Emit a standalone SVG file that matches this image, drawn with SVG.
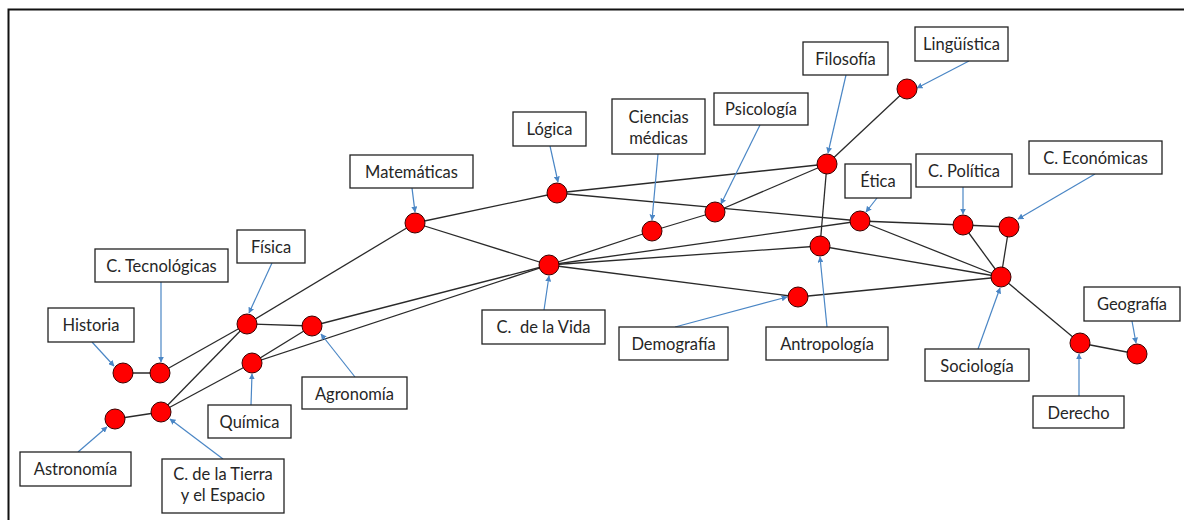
<svg xmlns="http://www.w3.org/2000/svg" width="1184" height="520" viewBox="0 0 1184 520">
<defs>
<marker id="ah" viewBox="0 0 10 10" refX="9" refY="5" markerWidth="6" markerHeight="6" orient="auto" markerUnits="userSpaceOnUse"><path d="M0,0 L10,5 L0,10 z" fill="#4a86c5"/></marker>
<style>
.box{fill:#fff;stroke:#222;stroke-width:1.3}
.t{font-family:Lato,"Open Sans",sans-serif;font-size:16.5px;fill:#262626;text-anchor:middle}
.n{fill:#f00;stroke:#3a0000;stroke-width:1}
.e{stroke:#2a2a2a;stroke-width:1.3;fill:none}
.a{stroke:#4a86c5;stroke-width:1.2;fill:none;marker-end:url(#ah)}
</style>
</defs>
<rect width="1184" height="520" fill="#fff"/>
<path d="M8.5,520 V9.5 H1184" fill="none" stroke="#111" stroke-width="2"/>
<g id="connectors">
<line class="e" x1="123" y1="373" x2="160" y2="373"/>
<line class="e" x1="160" y1="373" x2="247" y2="324"/>
<line class="e" x1="247" y1="324" x2="312" y2="326"/>
<line class="e" x1="247" y1="324" x2="415" y2="223"/>
<line class="e" x1="247" y1="324" x2="161" y2="412"/>
<line class="e" x1="115" y1="419" x2="161" y2="412"/>
<line class="e" x1="161" y1="412" x2="252" y2="363"/>
<line class="e" x1="252" y1="363" x2="312" y2="326"/>
<line class="e" x1="252" y1="363" x2="549" y2="265"/>
<line class="e" x1="312" y1="326" x2="549" y2="265"/>
<line class="e" x1="415" y1="223" x2="557" y2="193"/>
<line class="e" x1="415" y1="223" x2="549" y2="265"/>
<line class="e" x1="557" y1="193" x2="827" y2="164"/>
<line class="e" x1="557" y1="193" x2="860" y2="221"/>
<line class="e" x1="549" y1="265" x2="652" y2="231"/>
<line class="e" x1="652" y1="231" x2="715" y2="212"/>
<line class="e" x1="715" y1="212" x2="827" y2="164"/>
<line class="e" x1="827" y1="164" x2="907" y2="89"/>
<line class="e" x1="827" y1="164" x2="820" y2="246"/>
<line class="e" x1="549" y1="265" x2="860" y2="221"/>
<line class="e" x1="549" y1="265" x2="820" y2="246"/>
<line class="e" x1="549" y1="265" x2="798" y2="297"/>
<line class="e" x1="860" y1="221" x2="963" y2="225"/>
<line class="e" x1="963" y1="225" x2="1009" y2="227"/>
<line class="e" x1="860" y1="221" x2="1001" y2="277"/>
<line class="e" x1="820" y1="246" x2="1001" y2="277"/>
<line class="e" x1="798" y1="297" x2="1001" y2="277"/>
<line class="e" x1="963" y1="225" x2="1001" y2="277"/>
<line class="e" x1="1009" y1="227" x2="1001" y2="277"/>
<line class="e" x1="1001" y1="277" x2="1080" y2="343"/>
<line class="e" x1="1080" y1="343" x2="1137" y2="354"/>
<line class="a" x1="92" y1="342" x2="114" y2="366"/>
<line class="a" x1="161" y1="282" x2="161" y2="362"/>
<line class="a" x1="272" y1="263" x2="249" y2="313"/>
<line class="a" x1="355" y1="377" x2="321" y2="334"/>
<line class="a" x1="251" y1="405" x2="252" y2="374"/>
<line class="a" x1="78" y1="452" x2="107" y2="427"/>
<line class="a" x1="223" y1="459" x2="170" y2="419"/>
<line class="a" x1="412" y1="188" x2="415" y2="212"/>
<line class="a" x1="550" y1="146" x2="558" y2="182"/>
<line class="a" x1="658" y1="154" x2="652" y2="220"/>
<line class="a" x1="544" y1="310" x2="549" y2="276"/>
<line class="a" x1="675" y1="327" x2="787" y2="297"/>
<line class="a" x1="827" y1="327" x2="820" y2="257"/>
<line class="a" x1="760" y1="125" x2="721" y2="204"/>
<line class="a" x1="846" y1="75" x2="828" y2="153"/>
<line class="a" x1="969" y1="61" x2="917" y2="88"/>
<line class="a" x1="877" y1="198" x2="866" y2="212"/>
<line class="a" x1="963" y1="187" x2="963" y2="214"/>
<line class="a" x1="1095" y1="174" x2="1018" y2="219"/>
<line class="a" x1="978" y1="349" x2="1000" y2="288"/>
<line class="a" x1="1079" y1="396" x2="1079" y2="354"/>
<line class="a" x1="1132" y1="321" x2="1136" y2="343"/>
</g>
<g id="historia"><rect class="box" x="48" y="308" width="86" height="34"/><text class="t" x="91" y="331">Historia</text><circle class="n" cx="123" cy="373" r="10"/></g>
<g id="tecnologicas"><rect class="box" x="95" y="249" width="133" height="33"/><text class="t" x="161.5" y="271.5">C. Tecnológicas</text><circle class="n" cx="160" cy="373" r="10"/></g>
<g id="fisica"><rect class="box" x="237" y="230" width="68" height="33"/><text class="t" x="271" y="252.5">Física</text><circle class="n" cx="247" cy="324" r="10"/></g>
<g id="agronomia"><rect class="box" x="302" y="377" width="105" height="32"/><text class="t" x="354.5" y="399.5">Agronomía</text><circle class="n" cx="312" cy="326" r="10"/></g>
<g id="quimica"><rect class="box" x="208" y="405" width="83" height="33"/><text class="t" x="249.5" y="427.5">Química</text><circle class="n" cx="252" cy="363" r="10"/></g>
<g id="astronomia"><rect class="box" x="20" y="452" width="111" height="34"/><text class="t" x="75.5" y="474.5">Astronomía</text><circle class="n" cx="115" cy="419" r="10"/></g>
<g id="tierra"><rect class="box" x="162" y="459" width="122" height="54"/><text class="t" x="223" y="480">C. de la Tierra</text><text class="t" x="223" y="501">y el Espacio</text><circle class="n" cx="161" cy="412" r="10"/></g>
<g id="matematicas"><rect class="box" x="350" y="155" width="123" height="33"/><text class="t" x="411.5" y="177.5">Matemáticas</text><circle class="n" cx="415" cy="223" r="10"/></g>
<g id="logica"><rect class="box" x="513" y="112" width="73" height="34"/><text class="t" x="549.5" y="134.5">Lógica</text><circle class="n" cx="557" cy="193" r="10"/></g>
<g id="medicas"><rect class="box" x="612" y="99" width="93" height="55"/><text class="t" x="658.5" y="122.5">Ciencias</text><text class="t" x="658.5" y="143.5">médicas</text><circle class="n" cx="652" cy="231" r="10"/></g>
<g id="vida"><rect class="box" x="482" y="310" width="123" height="34"/><text class="t" x="543.5" y="332.5" xml:space="preserve">C.  de la Vida</text><circle class="n" cx="549" cy="265" r="10"/></g>
<g id="demografia"><rect class="box" x="619" y="327" width="109" height="33"/><text class="t" x="673.5" y="349.5">Demografía</text><circle class="n" cx="798" cy="297" r="10"/></g>
<g id="antropologia"><rect class="box" x="766" y="327" width="122" height="33"/><text class="t" x="827" y="349.5">Antropología</text><circle class="n" cx="820" cy="246" r="10"/></g>
<g id="psicologia"><rect class="box" x="714" y="93" width="94" height="32"/><text class="t" x="761" y="114.5">Psicología</text><circle class="n" cx="715" cy="212" r="10"/></g>
<g id="filosofia"><rect class="box" x="803" y="42" width="85" height="33"/><text class="t" x="845.5" y="64.5">Filosofía</text><circle class="n" cx="827" cy="164" r="10"/></g>
<g id="linguistica"><rect class="box" x="915" y="27" width="93" height="34"/><text class="t" x="961.5" y="49.5">Lingüística</text><circle class="n" cx="907" cy="89" r="10"/></g>
<g id="etica"><rect class="box" x="845" y="164" width="66" height="34"/><text class="t" x="878" y="186.5">Ética</text><circle class="n" cx="860" cy="221" r="10"/></g>
<g id="politica"><rect class="box" x="916" y="154" width="96" height="33"/><text class="t" x="964" y="176.5">C. Política</text><circle class="n" cx="963" cy="225" r="10"/></g>
<g id="economicas"><rect class="box" x="1029" y="141" width="133" height="33"/><text class="t" x="1095.5" y="163.5">C. Económicas</text><circle class="n" cx="1009" cy="227" r="10"/></g>
<g id="sociologia"><rect class="box" x="925" y="349" width="104" height="32"/><text class="t" x="977" y="371.5">Sociología</text><circle class="n" cx="1001" cy="277" r="10"/></g>
<g id="derecho"><rect class="box" x="1033" y="396" width="91" height="32"/><text class="t" x="1078.5" y="418.5">Derecho</text><circle class="n" cx="1080" cy="343" r="10"/></g>
<g id="geografia"><rect class="box" x="1084" y="287" width="96" height="34"/><text class="t" x="1132" y="309.5">Geografía</text><circle class="n" cx="1137" cy="354" r="10"/></g>
</svg>
